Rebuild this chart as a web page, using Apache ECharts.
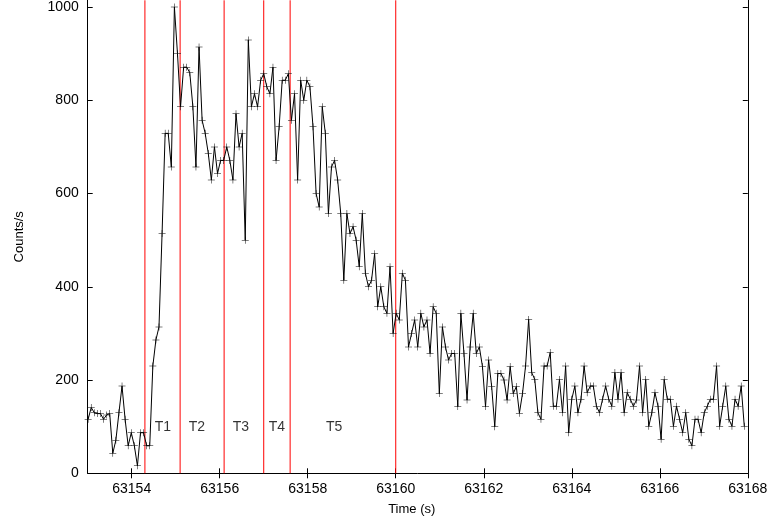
<!DOCTYPE html>
<html><head><meta charset="utf-8">
<script src="https://cdn.jsdelivr.net/npm/echarts@6/dist/echarts.min.js"></script>
<style>html,body{margin:0;padding:0;background:#fff}#c{width:771px;height:524px}</style>
</head><body><div id="c"></div>
<script>
// Light-curve bins (uniform binning)
const startTime = 63153.01;
const binWidth = 0.07;
const counts = [
  116, 141, 130, 128, 128, 116, 125, 128, 43, 71, 130, 187, 116, 59, 87, 59, 16, 87, 87, 59, 59,
  230, 286, 314, 514, 729, 729, 657, 1000, 900, 786, 871, 871, 859, 786, 657, 914,
  757, 729, 686, 629, 700, 643, 671, 671, 700, 671, 629, 771, 700, 729, 500, 929, 786, 814, 786,
  843, 857, 829, 814, 871, 671, 743, 843, 843, 857, 757, 814, 629, 843,
  800, 843, 829, 743, 600, 571, 786, 729, 557, 657, 671, 629, 557, 414, 557, 514, 529, 500, 443,
  557, 429, 400, 414, 471, 357, 400, 357, 343, 443, 300, 343, 329, 429, 414, 271, 300,
  329, 271, 343, 314, 329, 257, 357, 343, 171, 314, 271, 243, 257, 257, 143, 343, 257, 157,
  271, 343, 257, 271, 229, 143, 243, 186, 100, 214, 214, 200, 157, 229, 171, 186, 129, 171,
  230, 330, 216, 201, 130, 116, 230, 230, 259, 144, 144, 201, 130, 230, 87, 159, 187, 130,
  159, 230, 173, 187, 187, 144, 130, 159, 187, 159, 144, 216, 159, 216, 130, 173, 159, 144,
  157, 230, 130, 201, 101, 130, 173, 144, 73, 201, 159, 159, 101, 144, 116, 87, 130, 73,
  59, 116, 116, 87, 130, 144, 159, 159, 230, 101, 144, 187, 116, 101, 159, 144, 187, 101
];
const boundaryTimes = [63154.3, 63155.1, 63156.1, 63157.0, 63157.6, 63160.0];
const phaseLabels = ['T1', 'T2', 'T3', 'T4', 'T5'];
const phaseLabelTimes = [63154.71, 63155.48, 63156.48, 63157.30, 63158.60];
const phaseLabelLevel = 100;
const xTicks = [63154, 63156, 63158, 63160, 63162, 63164, 63166, 63168];
const yTicks = [0, 200, 400, 600, 800, 1000];
const xLabel = 'Time (s)';
const yLabel = 'Counts/s';

const FONT = "'Liberation Sans', Arial, Helvetica, sans-serif";
const Y_MAX = 1014.4;
const lineData = counts.map((v, i) => [startTime + i * binWidth, v]);
const labelData = phaseLabels.map((t, i) => [phaseLabelTimes[i], phaseLabelLevel, t]);
const plus = 'path://M0,6.5 H14 V7.5 H0 Z M6.5,0 H7.5 V14 H6.5 Z';

const chart = echarts.init(document.getElementById('c'), null, {renderer: 'canvas'});
const axisCommon = {
  type: 'value',
  splitLine: {show: false},
  axisLine: {show: true, onZero: false, lineStyle: {color: '#000', width: 1}},
  axisTick: {show: true, inside: true, length: 5, lineStyle: {color: '#000', width: 1}}
};
const boundarySeries = boundaryTimes.map(t => ({
  type: 'line',
  xAxisIndex: 0, yAxisIndex: 0,
  data: [[t, 0], [t, Y_MAX]],
  showSymbol: false, symbol: 'none',
  silent: true,
  color: '#ff0000',
  lineStyle: {color: '#ff0000', width: 1},
  emphasis: {disabled: true},
  z: 2
}));
chart.setOption({
  animation: false,
  backgroundColor: '#fff',
  textStyle: {fontFamily: FONT},
  grid: {left: 87.7, right: 23.2, top: 0, bottom: 50.7, containLabel: false},
  xAxis: [
    Object.assign({}, axisCommon, {
      min: 63153, max: 63168, position: 'bottom',
      name: xLabel, nameLocation: 'middle', nameGap: 30,
      nameTextStyle: {color: '#000', fontSize: 13, fontFamily: FONT, padding: [0, 12, 0, 0]},
      axisTick: Object.assign({}, axisCommon.axisTick, {customValues: xTicks}),
      axisLabel: {customValues: xTicks, color: '#000', fontSize: 14, fontFamily: FONT, margin: 9,
        formatter: v => String(v)}
    }),
    Object.assign({}, axisCommon, {
      min: 63153, max: 63168, position: 'top',
      axisLine: {show: false},
      axisTick: Object.assign({}, axisCommon.axisTick, {customValues: xTicks}),
      axisLabel: {show: false}
    })
  ],
  yAxis: [
    Object.assign({}, axisCommon, {
      min: 0, max: Y_MAX, position: 'left',
      name: yLabel, nameLocation: 'middle', nameGap: 62, nameRotate: 90,
      nameTextStyle: {color: '#000', fontSize: 13, fontFamily: FONT},
      axisTick: Object.assign({}, axisCommon.axisTick, {customValues: yTicks}),
      axisLabel: {customValues: yTicks, color: '#000', fontSize: 14, fontFamily: FONT, margin: 9,
        formatter: v => String(v)}
    }),
    Object.assign({}, axisCommon, {
      min: 0, max: Y_MAX, position: 'right',
      axisTick: Object.assign({}, axisCommon.axisTick, {customValues: yTicks}),
      axisLabel: {show: false}
    })
  ],
  series: boundarySeries.concat([
    {
      type: 'line',
      data: lineData,
      xAxisIndex: 0, yAxisIndex: 0,
      symbol: plus, symbolSize: 7, showSymbol: true,
      color: '#000',
      itemStyle: {color: '#000'},
      lineStyle: {color: '#000', width: 1},
      emphasis: {disabled: true},
      z: 3
    },
    {
      type: 'scatter',
      data: labelData,
      xAxisIndex: 0, yAxisIndex: 0,
      symbolSize: 0,
      silent: true,
      label: {show: true, position: 'inside', formatter: p => p.value[2],
        color: '#000', fontSize: 14, fontFamily: FONT},
      z: 4
    }
  ])
});
</script>
</body></html>
